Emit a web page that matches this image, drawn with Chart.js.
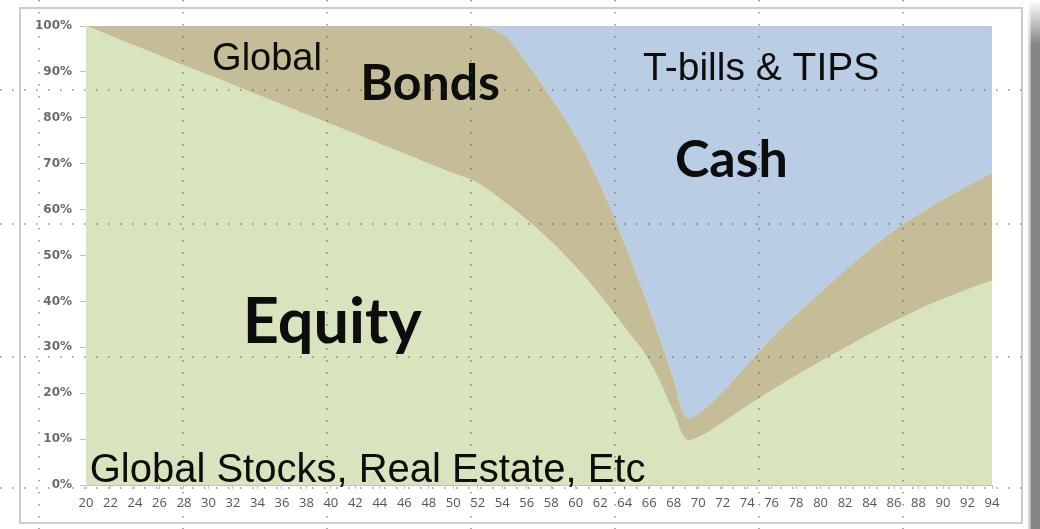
<!DOCTYPE html>
<html>
<head>
<meta charset="utf-8">
<script src="https://cdn.jsdelivr.net/npm/chart.js@4.4.0/dist/chart.umd.min.js"></script>
<style>
  html, body { margin: 0; padding: 0; background: #fff; }
  #wrap { width: 1040px; height: 529px; }
</style>
</head>
<body>
<div id="wrap"><canvas id="myChart" width="1040" height="529"></canvas></div>
<script>
// age on the x axis, share of portfolio (%) per asset class
const ages   = [20, 22, 24, 26, 28, 30, 32, 34, 36, 38, 40, 42, 44, 46, 48, 50, 52, 54, 56, 58, 60, 62, 64, 66, 68, 69, 70, 72, 74, 76, 78, 80, 82, 84, 86, 88, 90, 92, 94];
const equity = [100, 97.9, 95.7, 93.6, 91.4, 89.3, 87.2, 85.0, 82.9, 80.7, 78.6, 76.5, 74.3, 72.2, 70.0, 67.9, 65.8, 62.0, 57.8, 53.0, 47.5, 41.3, 34.3, 27.0, 15.8, 10.0, 10.4, 13.6, 17.2, 20.6, 23.8, 26.9, 29.9, 32.8, 35.6, 38.2, 40.5, 42.6, 44.5];
const bonds  = [0, 2.1, 4.3, 6.4, 8.6, 10.7, 12.8, 15.0, 17.1, 19.3, 21.4, 23.5, 25.7, 27.8, 30.0, 32.1, 34.2, 36.3, 34.2, 31.3, 28.5, 24.2, 18.3, 11.5, 7.2, 4.8, 5.1, 6.7, 9.0, 11.4, 13.4, 15.1, 16.9, 18.5, 19.9, 20.8, 21.7, 22.6, 23.5];
const cash   = [0, 0, 0, 0, 0, 0, 0, 0, 0, 0, 0, 0, 0, 0, 0, 0, 0, 1.7, 8.0, 15.7, 24.0, 34.5, 47.4, 61.5, 77.0, 85.2, 84.5, 79.7, 73.8, 68.0, 62.8, 58.0, 53.2, 48.7, 44.5, 41.0, 37.8, 34.8, 32.0];

const xTicks = [20, 22, 24, 26, 28, 30, 32, 34, 36, 38, 40, 42, 44, 46, 48, 50, 52, 54, 56, 58, 60, 62, 64, 66, 68, 70, 72, 74, 76, 78, 80, 82, 84, 86, 88, 90, 92, 94];
const yTicks = [0, 10, 20, 30, 40, 50, 60, 70, 80, 90, 100];

// text written on the chart (x = age, y = percent, at left baseline)
const notes = [
    { text: 'Global', x: 30.3, y: 90.4, font: '38px "Liberation Sans"' },
    { text: 'Bonds', x: 42.4, y: 83.9, font: 'bold 50px Lato' },
    { text: 'T-bills & TIPS', x: 65.5, y: 88.2, font: '39px "Liberation Sans"' },
    { text: 'Cash', x: 68.1, y: 67.1, font: 'bold 52px Lato' },
    { text: 'Equity', x: 32.8, y: 30.9, font: 'bold 63px Lato' },
    { text: 'Global Stocks, Real Estate, Etc', x: 20.3, y: 0.7, font: '40px "Liberation Sans"' }
];

const pts = arr => arr.map((v, i) => ({ x: ages[i], y: v }));

const decor = {
    id: 'decor',
    beforeDraw(chart) {
        const c = chart.ctx;
        c.save();
        c.fillStyle = '#fff';
        c.fillRect(0, 0, chart.width, chart.height);
        // shadow strip on the right
        c.fillStyle = '#858585';
        c.fillRect(1031, 0, 9, chart.height);
        const g = c.createLinearGradient(1027, 0, 1033, 0);
        g.addColorStop(0, 'rgba(133,133,133,0)');
        g.addColorStop(1, 'rgba(133,133,133,1)');
        c.fillStyle = g;
        c.fillRect(1027, 0, 6, chart.height);
        const gt = c.createLinearGradient(0, 0, 0, 45);
        gt.addColorStop(0, 'rgba(255,255,255,1)');
        gt.addColorStop(1, 'rgba(255,255,255,0)');
        c.fillStyle = gt;
        c.fillRect(1025, 0, 15, 45);
        // frame
        c.strokeStyle = '#cccccc';
        c.lineWidth = 2;
        c.strokeRect(20, 8, 1002, 515);
        c.restore();
    },
    afterDatasetsDraw(chart) {
        const c = chart.ctx;
        const xs = chart.scales.x, ys = chart.scales.y;
        c.save();
        c.fillStyle = '#0d0d0d';
        c.textBaseline = 'alphabetic';
        c.textAlign = 'left';
        notes.forEach(n => {
            c.font = n.font;
            c.fillText(n.text, xs.getPixelForValue(n.x), ys.getPixelForValue(n.y));
        });
        c.restore();
    },
    afterDraw(chart) {
        // dotted guide lines over the picture
        const c = chart.ctx;
        c.save();
        c.strokeStyle = 'rgba(70,70,70,0.6)';
        c.lineWidth = 1.5;
        c.setLineDash([1.5, 10.5]);
        [39, 183, 327, 471, 615, 759, 903].forEach(x => {
            c.beginPath(); c.moveTo(x, 0); c.lineTo(x, chart.height); c.stroke();
        });
        [90, 224, 357, 488].forEach(y => {
            c.beginPath(); c.moveTo(0, y); c.lineTo(1030, y); c.stroke();
        });
        c.restore();
    }
};

const ctx = document.getElementById('myChart').getContext('2d');
const myChart = new Chart(ctx, {
    type: 'line',
    data: {
        datasets: [
            { label: 'Equity', data: pts(equity), backgroundColor: '#D7E4BD', fill: 'origin' },
            { label: 'Bonds', data: pts(bonds), backgroundColor: '#C4BD97', fill: '-1' },
            { label: 'Cash', data: pts(cash), backgroundColor: '#B9CDE5', fill: '-1' }
        ]
    },
    options: {
        responsive: false,
        animation: false,
        layout: { padding: { left: 0, right: 48, top: 26, bottom: 0 } },
        elements: {
            point: { radius: 0 },
            line: { borderWidth: 0, tension: 0.4 }
        },
        plugins: { legend: { display: false }, tooltip: { enabled: false } },
        scales: {
            x: {
                type: 'linear',
                min: 20,
                max: 94,
                afterFit: s => { s.height = 44; },
                afterBuildTicks: s => { s.ticks = xTicks.map(v => ({ value: v })); },
                ticks: {
                    autoSkip: false,
                    maxRotation: 0,
                    padding: 6,
                    color: '#555555',
                    font: { family: 'Open Sans', size: 13 }
                },
                grid: { drawOnChartArea: false, tickLength: 4, color: '#c0c0c0' },
                border: { color: '#bfbfbf' }
            },
            y: {
                stacked: true,
                min: 0,
                max: 100,
                afterFit: s => { s.width = 86; },
                afterBuildTicks: s => { s.ticks = yTicks.map(v => ({ value: v })); },
                ticks: {
                    padding: 8,
                    color: '#6a6a6a',
                    font: { family: 'DejaVu Sans', size: 12, weight: 'bold' },
                    callback: v => v + '%'
                },
                grid: { drawOnChartArea: false, tickLength: 6, color: '#c0c0c0' },
                border: { color: '#d0d0d0' }
            }
        }
    },
    plugins: [decor]
});
</script>
</body>
</html>
